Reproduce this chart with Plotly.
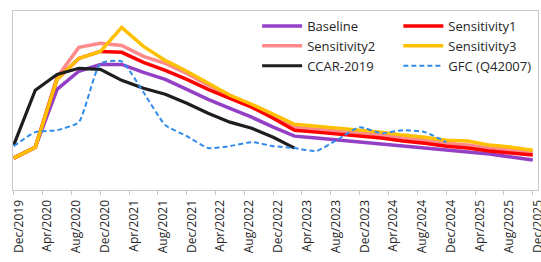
import plotly.graph_objects as go
import pandas as pd

# Quarterly dates Dec 2019 .. Dec 2025
dates = pd.date_range("2019-12-01", "2025-12-01", freq="3MS").strftime("%Y-%m-%d").tolist()

baseline = [2.14, 2.87, 6.75, 7.96, 8.42, 8.42, 7.89, 7.42, 6.75, 6.08, 5.48, 4.88, 4.21,
            3.61, 3.48, 3.34, 3.21, 3.08, 2.94, 2.81, 2.67, 2.54, 2.41, 2.21, 2.01]
sensitivity1 = [2.14, 2.87, 7.42, 8.82, 9.29, 9.23, 8.56, 8.02, 7.42, 6.75, 6.15, 5.55, 4.81,
                4.01, 3.88, 3.74, 3.61, 3.48, 3.28, 3.14, 2.94, 2.81, 2.61, 2.47, 2.34]
sensitivity2 = [2.14, 2.87, 7.55, 9.56, 9.83, 9.69, 8.96, 8.49, 7.82, 7.02, 6.35, 5.68, 4.95,
                4.21, 4.08, 3.94, 3.81, 3.68, 3.48, 3.34, 3.14, 3.01, 2.81, 2.67, 2.54]
sensitivity3 = [2.14, 2.87, 7.42, 8.82, 9.29, 10.90, 9.63, 8.69, 7.96, 7.15, 6.35, 5.75, 5.08,
                4.41, 4.28, 4.14, 4.01, 3.88, 3.68, 3.54, 3.34, 3.28, 3.01, 2.87, 2.67]
ccar2019 = [3.01, 6.69, 7.75, 8.16, 8.09, 7.35, 6.82, 6.42, 5.82, 5.15, 4.55, 4.14, 3.54, 2.81]
gfc = [2.94, 3.88, 4.01, 4.55, 8.49, 8.62, 6.55, 4.35, 3.61, 2.81, 2.94, 3.21, 2.94,
       2.81, 2.61, 3.41, 4.21, 3.81, 4.01, 3.88, 3.21]

names = ["Baseline", "Sensitivity1", "Sensitivity2", "Sensitivity3", "CCAR-2019", "GFC (Q42007)"]

fig = go.Figure()
fig.add_trace(go.Scatter(x=dates, y=baseline, name=names[0], mode="lines",
                         line=dict(color="#9440C6", width=3.5), legend="legend"))
fig.add_trace(go.Scatter(x=dates, y=sensitivity2, name=names[2], mode="lines",
                         line=dict(color="#FF8A8A", width=3.5), legend="legend"))
fig.add_trace(go.Scatter(x=dates, y=sensitivity1, name=names[1], mode="lines",
                         line=dict(color="#FF0000", width=3.5), legend="legend2"))
fig.add_trace(go.Scatter(x=dates, y=sensitivity3, name=names[3], mode="lines",
                         line=dict(color="#FFC000", width=3.5), legend="legend2"))
fig.add_trace(go.Scatter(x=dates[:len(ccar2019)], y=ccar2019, name=names[4], mode="lines",
                         line=dict(color="#1E1E1E", width=3.2), legend="legend"))
fig.add_trace(go.Scatter(x=dates[:len(gfc)], y=gfc, name=names[5], mode="lines",
                         line=dict(color="#2F8BEB", width=2, dash="5px,3px", shape="spline", smoothing=0.5),
                         legend="legend2"))

legfont = dict(family="Open Sans", size=13, color="#262626")
fig.update_layout(
    width=541, height=262,
    margin=dict(l=12.5, r=3, t=10.5, b=72),
    paper_bgcolor="white", plot_bgcolor="white",
    font=dict(family="Open Sans", size=12, color="#262626"),
    showlegend=True,
    legend=dict(x=0.465, y=1.0, xanchor="left", yanchor="top", font=legfont,
                bgcolor="rgba(0,0,0,0)", itemwidth=40, traceorder="normal"),
    legend2=dict(x=0.734, y=1.0, xanchor="left", yanchor="top", font=legfont,
                 bgcolor="rgba(0,0,0,0)", itemwidth=40, traceorder="normal"),
    xaxis=dict(type="date", range=["2019-11-28", "2025-12-23"], automargin=False,
               tick0="2019-12-01", dtick="M4", tickformat="%b/%Y", tickangle=-90,
               ticks="outside", ticklen=4, tickcolor="#C8C8C8",
               ticklabelshift=5, ticklabeloverflow="allow",
               showline=True, linecolor="#C8C8C8", linewidth=1.3, mirror=True,
               showgrid=False, zeroline=False,
               tickfont=dict(family="Open Sans", size=12, color="#262626")),
    yaxis=dict(range=[0, 12], showticklabels=False, ticks="", showgrid=False, automargin=False,
               zeroline=False, showline=True, linecolor="#C8C8C8", linewidth=1.3, mirror=True),
)

fig.write_html("out.html", config={"displayModeBar": False},
               post_script="document.body.style.margin='0px';document.body.style.overflow='hidden';")
